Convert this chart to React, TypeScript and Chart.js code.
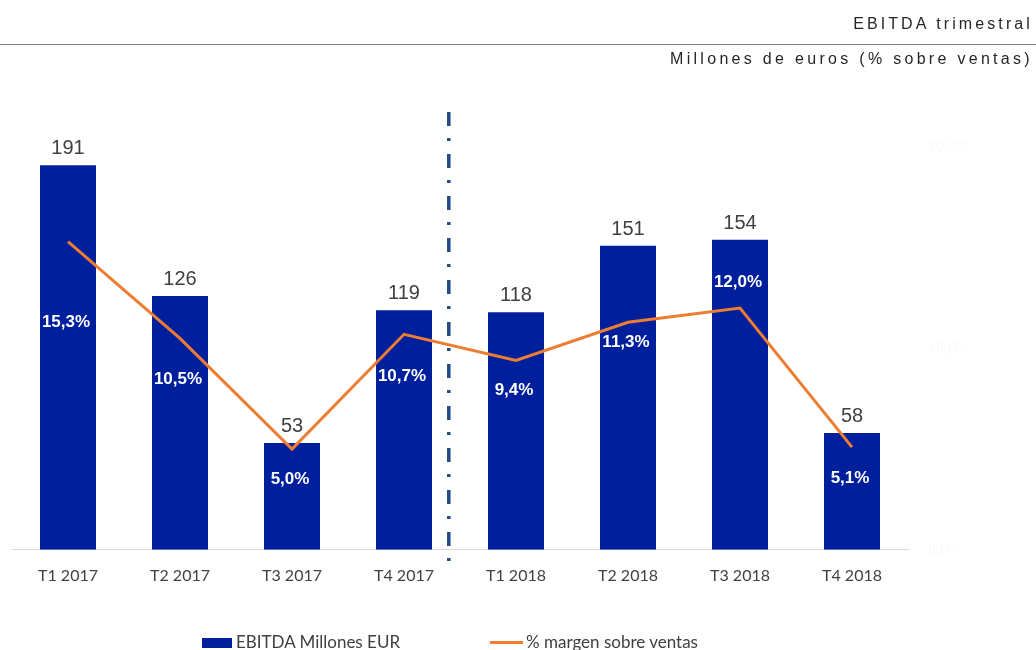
import React, { useEffect, useRef } from "react";
import { Chart, registerables } from "chart.js";

Chart.register(...registerables);

// ---- data ----
const CATEGORIES = ["T1 2017", "T2 2017", "T3 2017", "T4 2017", "T1 2018", "T2 2018", "T3 2018", "T4 2018"];
const EBITDA = [191, 126, 53, 119, 118, 151, 154, 58];
const MARGIN = [15.3, 10.5, 5.0, 10.7, 9.4, 11.3, 12.0, 5.1];
const EBITDA_MAX = 200;
const MARGIN_MAX = 20;
const MARGIN_STEP = 10;
const SERIES_BAR = "EBITDA Millones EUR";
const SERIES_LINE = "% margen sobre ventas";
const TITLE = "EBITDA trimestral";
const SUBTITLE = "Millones de euros (% sobre ventas)";

// ---- styling ----
const BAR_COLOR = "#001f9c";
const LINE_COLOR = "#ED7D31";
const SEP_COLOR = "#1f4a86";
// vertical offset (px) of the white % labels from their line point
const PCT_LABEL_DY = [81, 41, 30, 42, 30, 20, -26, 31];
// separator placed between T4 2017 and T1 2018 (category-index units)
const SEPARATOR_AT = 3.4;

const fmtPct = (v: number) => v.toFixed(1).replace(".", ",") + "%";

const labelsPlugin = {
  id: "customLabels",
  afterDatasetsDraw(chart: any) {
    const ctx = chart.ctx as CanvasRenderingContext2D;
    const barMeta = chart.getDatasetMeta(0);
    const lineMeta = chart.getDatasetMeta(1);
    ctx.save();
    ctx.textAlign = "center";
    // values above bars
    ctx.font = '20px "Liberation Sans", Arial, sans-serif';
    ctx.fillStyle = "#404040";
    ctx.textBaseline = "alphabetic";
    barMeta.data.forEach((bar: any, i: number) => {
      ctx.fillText(String(EBITDA[i]), bar.x, bar.y - 11);
    });
    // percentage labels inside bars
    ctx.font = 'bold 17px "Liberation Sans", Arial, sans-serif';
    ctx.fillStyle = "#ffffff";
    ctx.textBaseline = "middle";
    lineMeta.data.forEach((pt: any, i: number) => {
      ctx.fillText(fmtPct(MARGIN[i]), pt.x - 2, pt.y + PCT_LABEL_DY[i]);
    });
    // dash-dot separator
    const xs = chart.scales.x;
    const a = xs.getPixelForValue(Math.floor(SEPARATOR_AT));
    const b = xs.getPixelForValue(Math.floor(SEPARATOR_AT) + 1);
    const sx = a + (b - a) * (SEPARATOR_AT - Math.floor(SEPARATOR_AT));
    const area = chart.chartArea;
    ctx.strokeStyle = SEP_COLOR;
    ctx.lineWidth = 3.5;
    ctx.setLineDash([14, 12, 3, 13]);
    ctx.beginPath();
    ctx.moveTo(sx, area.top - 35);
    ctx.lineTo(sx, area.bottom + 14);
    ctx.stroke();
    ctx.restore();
  },
};

function ChartCanvas() {
  const ref = useRef<HTMLCanvasElement>(null);
  useEffect(() => {
    if (!ref.current) return;
    const chart = new Chart(ref.current, {
      type: "bar",
      data: {
        labels: CATEGORIES,
        datasets: [
          {
            type: "bar",
            label: SERIES_BAR,
            data: EBITDA,
            backgroundColor: BAR_COLOR,
            yAxisID: "y",
            barPercentage: 0.5,
            categoryPercentage: 1,
            order: 1,
          },
          {
            type: "line",
            label: SERIES_LINE,
            data: MARGIN,
            borderColor: LINE_COLOR,
            backgroundColor: LINE_COLOR,
            borderWidth: 3,
            pointRadius: 0,
            tension: 0,
            yAxisID: "y1",
            order: 0,
          } as any,
        ],
      },
      options: {
        animation: false,
        responsive: false,
        devicePixelRatio: 1,
        layout: { padding: { top: 147, left: 12, right: 0, bottom: 49 } },
        plugins: {
          legend: { display: false },
          tooltip: { enabled: false },
        },
        scales: {
          x: {
            grid: { display: false, drawTicks: false },
            border: { display: true, color: "#d9d9d9", width: 1 },
            ticks: {
              color: "#404040",
              font: { family: "Lato", size: 16 },
              padding: 16,
            },
          },
          y: {
            display: false,
            min: 0,
            max: EBITDA_MAX,
          },
          y1: {
            position: "right",
            min: 0,
            max: MARGIN_MAX,
            grid: { display: false, drawTicks: false },
            border: { display: false },
            ticks: {
              stepSize: MARGIN_STEP,
              color: "#f9f9f9",
              font: { family: "Liberation Serif", size: 16 },
              padding: 20,
              callback: (v: any) => fmtPct(Number(v)),
            },
            afterFit: (scale: any) => {
              scale.width = 128;
            },
          },
        },
      },
      plugins: [labelsPlugin],
    });
    return () => chart.destroy();
  }, []);
  return (
    <canvas
      ref={ref}
      width={1036}
      height={650}
      style={{ position: "absolute", left: 0, top: 0, width: 1036, height: 650 }}
    />
  );
}

export default function App() {
  const headerFont = '"Liberation Sans", Arial, sans-serif';
  const legendText: React.CSSProperties = {
    position: "absolute",
    top: 632,
    display: "flex",
    alignItems: "center",
    fontFamily: "Lato, sans-serif",
    fontSize: 17,
    lineHeight: "20px",
    color: "#404040",
    whiteSpace: "nowrap",
  };
  return (
    <div style={{ position: "absolute", left: 0, top: 0, width: 1036, height: 650, background: "#fff", overflow: "hidden" }}>
      <ChartCanvas />
      <div
        style={{
          position: "absolute",
          right: 3,
          top: 14,
          fontFamily: headerFont,
          fontSize: 16,
          lineHeight: "20px",
          letterSpacing: 3.1,
          color: "#262626",
          whiteSpace: "nowrap",
        }}
      >
        {TITLE}
      </div>
      <div style={{ position: "absolute", left: 0, top: 44, width: 1036, height: 1, background: "#808080" }} />
      <div
        style={{
          position: "absolute",
          right: 3,
          top: 49,
          fontFamily: headerFont,
          fontSize: 16,
          lineHeight: "20px",
          letterSpacing: 3.3,
          color: "#262626",
          whiteSpace: "nowrap",
        }}
      >
        {SUBTITLE}
      </div>
      <div style={{ ...legendText, left: 202 }}>
        <span style={{ display: "inline-block", width: 30, height: 10, background: BAR_COLOR, marginRight: 4, marginTop: 2 }} />
        <span>{SERIES_BAR}</span>
      </div>
      <div style={{ ...legendText, left: 490 }}>
        <span style={{ display: "inline-block", width: 33, height: 3, background: LINE_COLOR, marginRight: 3 }} />
        <span>{SERIES_LINE}</span>
      </div>
    </div>
  );
}
